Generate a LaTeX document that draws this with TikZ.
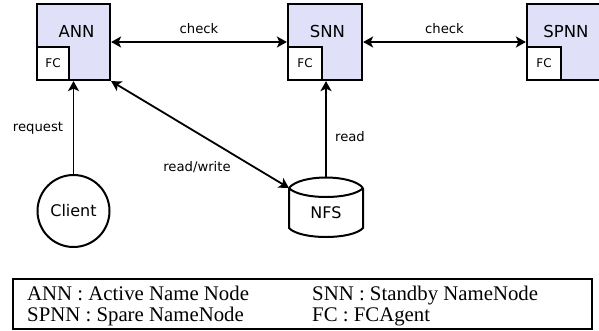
\documentclass[tikz,border=0pt]{standalone}
\usepackage{fontspec}
\setmainfont{Liberation Serif}
\newfontfamily\dv{DejaVu Sans}
\usetikzlibrary{arrows.meta}
\definecolor{boxfill}{RGB}{224,224,248}
\tikzset{
  nnbox/.style={draw=black, line width=2.2pt, fill=boxfill, minimum height=76, inner sep=0pt},
  fcbox/.style={draw=black, line width=2.2pt, fill=white, minimum height=33, inner sep=0pt, font=\dv\fontsize{12}{14}\selectfont},
  nnlabel/.style={font=\dv\fontsize{16.5}{19}\selectfont, inner sep=0pt},
  elabel/.style={font=\dv\fontsize{13.2}{15}\selectfont, inner sep=0pt},
  arr/.style={line width=1.8pt, -{Stealth[length=10pt,width=11pt,inset=2.5pt]}},
  darr/.style={line width=1.8pt, {Stealth[length=10pt,width=11pt,inset=2.5pt]}-{Stealth[length=10pt,width=11pt,inset=2.5pt]}},
  ttext/.style={font=\fontsize{20.8}{24}\selectfont, anchor=base west, inner sep=0pt}
}
\begin{document}
\begin{tikzpicture}[x=1pt,y=-1pt]
\useasboundingbox (0,0) rectangle (599,330);
% name node boxes
\node[nnbox, minimum width=73] (ann) at (73.5,42) {};
\node[nnbox, minimum width=74] (snn) at (325,42) {};
\node[nnbox, minimum width=90] (spnn) at (572,42) {};
\node[fcbox, minimum width=32, anchor=south west] (annfc) at (ann.south west) {FC};
\node[fcbox, minimum width=34, anchor=south west] (snnfc) at (snn.south west) {FC};
\node[fcbox, minimum width=34, anchor=south west] (spnnfc) at (spnn.south west) {FC};
\node[nnlabel] (annl) at (76.5,31) {ANN};
\node[nnlabel] (snnl) at (327.5,31) {SNN};
\node[nnlabel] (spnnl) at (566,31) {SPNN};
% client
\node[draw, line width=2pt, circle, minimum size=72, inner sep=0pt, font=\dv\fontsize{16}{19}\selectfont] (client) at (73.5,211) {Client};
% NFS data store
\draw[line width=2pt] (289,188) .. controls (300,174) and (352,174) .. (363,188)
  (289,188) .. controls (300,200) and (352,200) .. (363,188)
  (289,188) -- (289,228) .. controls (300,240) and (352,240) .. (363,228) -- (363,188);
\node[font=\dv\fontsize{16}{19}\selectfont, inner sep=0pt] (nfs) at (326,213) {NFS};
\coordinate (nfstop) at (326,178);
\coordinate (nfsleft) at (289,188);
% connectors
\draw[darr] (ann.east) -- node[elabel, above=7pt] (chk1) {check} (snn.west);
\draw[darr] (snn.east) -- node[elabel, above=7pt] (chk2) {check} (spnn.west);
\draw[arr] (client.north) -- (ann.south);
\draw[arr] (nfstop) -- (nfstop |- snn.south);
\draw[darr] (ann.south east) -- (nfsleft);
\node[elabel] (req) at (38,128) {request};
\node[elabel] (rd) at (350,137) {read};
\node[elabel] (rw) at (197,167) {read/write};
% legend table
\draw[line width=1.3pt] (13,279) rectangle (592,329);
\node[ttext] (t1) at (27,300) {ANN : Active Name Node};
\node[ttext] (t2) at (312,300) {SNN : Standby NameNode};
\node[ttext] (t3) at (27,321) {SPNN : Spare NameNode};
\node[ttext] (t4) at (312,321) {FC : FCAgent};
\end{tikzpicture}
\end{document}
